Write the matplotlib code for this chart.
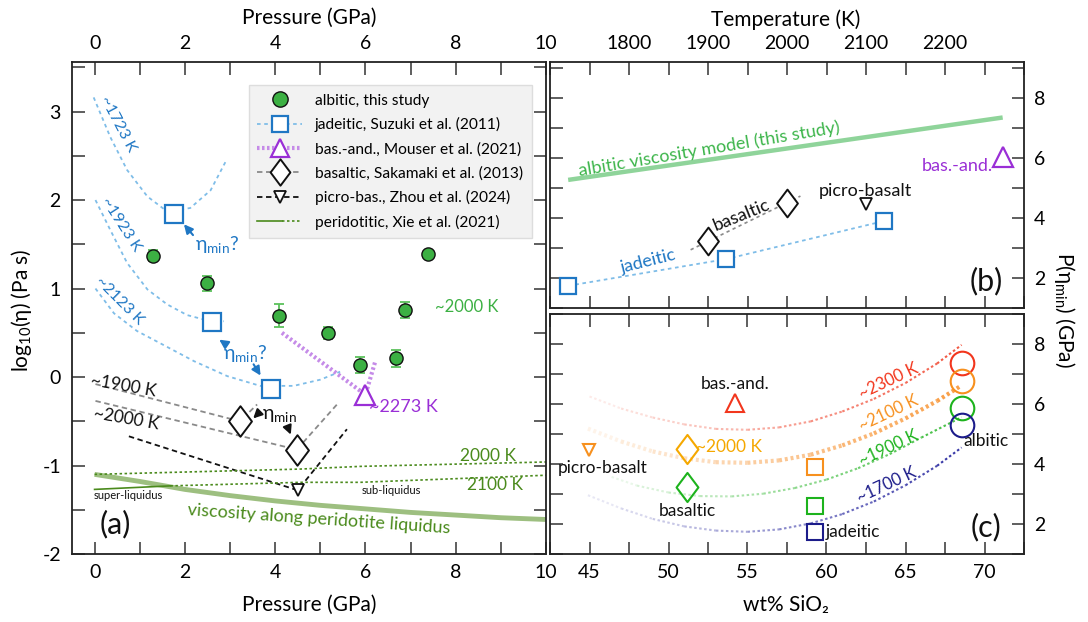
import numpy as np
import matplotlib
matplotlib.use('Agg')
import matplotlib.pyplot as plt
from matplotlib.lines import Line2D
from matplotlib.legend_handler import HandlerBase
from matplotlib.path import Path
from matplotlib.ticker import MultipleLocator, FixedLocator

plt.rcParams['font.family'] = ['Lato', 'DejaVu Sans']
plt.rcParams['mathtext.fontset'] = 'custom'
plt.rcParams['mathtext.rm'] = 'Lato'
plt.rcParams['mathtext.it'] = 'Lato:italic'
plt.rcParams['mathtext.default'] = 'regular'
plt.rcParams['axes.unicode_minus'] = False

# ---------------- Panel (a) data ----------------
alb_P = [1.30, 2.49, 4.09, 5.18, 5.88, 6.68, 6.88, 7.38]
alb_eta = [1.37, 1.06, 0.69, 0.50, 0.14, 0.21, 0.76, 1.39]
alb_err = [0.06, 0.085, 0.13, 0.07, 0.09, 0.10, 0.09, 0.0]

jad_P = [1.75, 2.60, 3.91]
jad_eta = [1.84, 0.62, -0.13]
jad1723_P = [-0.02, 0.35, 0.72, 1.17, 1.61, 2.12, 2.57, 2.93]
jad1723_eta = [3.16, 2.71, 2.34, 2.04, 1.87, 1.91, 2.11, 2.46]
jad1923_P = [0.02, 0.35, 0.72, 1.17, 1.61, 2.05, 2.42, 2.86]
jad1923_eta = [2.00, 1.66, 1.29, 0.99, 0.82, 0.70, 0.65, 0.63]
jad2123_P = [0.02, 0.43, 0.94, 1.46, 2.20, 2.94, 3.67, 4.41, 5.00, 5.44]
jad2123_eta = [1.00, 0.72, 0.52, 0.38, 0.18, 0.01, -0.10, -0.10, -0.03, 0.06]

basand_P = [6.0]
basand_eta = [-0.20]
basand_line_P = [4.15, 6.0, 6.22]
basand_line_eta = [0.50, -0.20, 0.18]

bas_P = [3.22, 4.48]
bas_eta = [-0.50, -0.82]
bas1900_P = [0.02, 3.22, 3.60]
bas1900_eta = [-0.08, -0.50, -0.31]
bas2000_P = [0.02, 4.48, 5.37]
bas2000_eta = [-0.27, -0.82, -0.31]

picro_P = [4.50]
picro_eta = [-1.28]
picro_line_P = [0.76, 4.50, 5.59]
picro_line_eta = [-0.67, -1.28, -0.59]

liq_P = [0, 1, 2, 3, 4, 5, 6, 7, 8, 9, 10]
liq_eta = [-1.10, -1.18, -1.27, -1.34, -1.40, -1.45, -1.49, -1.53, -1.56, -1.59, -1.61]
per2000_P = [0.0, 4.56, 5.88, 10.0]
per2000_eta = [-1.10, -1.04, -1.01, -0.96]
per2100_solid_P = [0.0, 1.68]
per2100_solid_eta = [-1.27, -1.23]
per2100_P = [1.68, 4.56, 5.88, 10.0]
per2100_eta = [-1.23, -1.19, -1.19, -1.11]

# ---------------- Panel (b) data ----------------
b_jad_T = [1723, 1923, 2123]
b_jad_P = [1.74, 2.63, 3.90]
b_bas_T = [1900, 2000]
b_bas_P = [3.22, 4.49]
b_bas_line_T = [1878, 2017]
b_bas_line_P = [2.94, 4.73]
b_picro_T = [2100]
b_picro_P = [4.47]
b_basand_T = [2273]
b_basand_P = [6.04]
b_model_T = [1723, 2273]
b_model_P = [5.27, 7.35]
b_temp_ticks = [1800, 1900, 2000, 2100, 2200]

# ---------------- Panel (c) data ----------------
c_alb_si = [68.6, 68.6, 68.6, 68.6]
c_alb_P = [7.37, 6.76, 5.88, 5.29]
c_alb_col = ['#f2361d', '#f7901e', '#1db31d', '#1c1c8a']
c_jad_si = [59.3, 59.3, 59.3]
c_jad_P = [3.90, 2.60, 1.72]
c_jad_col = ['#f7901e', '#1db31d', '#1c1c8a']
c_bas_si = [51.2, 51.2]
c_bas_P = [4.51, 3.22]
c_bas_col = ['#f5a800', '#1db31d']
c_picro_si = [44.94]
c_picro_P = [4.46]
c_basand_si = [54.2]
c_basand_P = [6.02]

c2300_si = [45.0, 47.0, 49.0, 51.0, 53.0, 55.0, 57.0, 59.0, 61.0, 63.0, 65.0, 67.0, 68.55]
c2300_P = [6.25, 5.85, 5.55, 5.32, 5.17, 5.14, 5.22, 5.42, 5.75, 6.17, 6.70, 7.35, 7.97]
c2100_si = [44.9, 47.0, 49.0, 51.0, 53.0, 55.0, 57.0, 59.0, 61.0, 63.0, 65.0, 67.0, 68.55]
c2100_P = [5.18, 4.75, 4.42, 4.19, 4.06, 4.04, 4.12, 4.31, 4.62, 5.02, 5.52, 6.10, 6.62]
c1900_si = [46.4, 48.0, 50.0, 52.0, 54.0, 56.0, 58.0, 60.0, 62.0, 64.0, 66.0, 68.55]
c1900_P = [3.57, 3.28, 3.05, 2.93, 2.92, 3.01, 3.20, 3.48, 3.86, 4.33, 4.88, 5.56]
c1700_si = [44.9, 47.0, 49.0, 51.0, 53.0, 55.0, 57.0, 59.0, 61.0, 63.0, 65.0, 67.0, 68.55]
c1700_P = [2.96, 2.52, 2.17, 1.92, 1.78, 1.74, 1.82, 2.02, 2.33, 2.75, 3.29, 3.94, 4.55]

# ---------------- styles ----------------
BLUE = '#1f77c4'
LBLUE = '#7fbde8'
PURPLE = '#9a2fd6'
LPURPLE = '#c58be8'
GRAY = '#8a8a8a'
DGREEN = '#4a8a1c'
LGREEN = '#9dbf80'
ALBGREEN = '#3cb043'

diamond = Path([(0, 1), (0.75, 0), (0, -1), (-0.75, 0), (0, 1)],
               [Path.MOVETO, Path.LINETO, Path.LINETO, Path.LINETO, Path.CLOSEPOLY])

fig = plt.figure(figsize=(10.88, 6.22), dpi=100)
W, H = 1088, 622


def axes_px(l, r, t, b):
    return fig.add_axes([l / W, 1 - b / H, (r - l) / W, (b - t) / H])


ax = axes_px(72, 546, 62, 554)
axb = axes_px(550, 1024, 62, 308)
axc = axes_px(550, 1024, 314, 554)

for a in (ax, axb, axc):
    for s in a.spines.values():
        s.set_linewidth(1.3)
        s.set_color('#222222')

# ---------------- Panel (a) ----------------
for Px, Ey in ((jad1723_P, jad1723_eta), (jad1923_P, jad1923_eta), (jad2123_P, jad2123_eta)):
    ax.plot(Px, Ey, color=LBLUE, lw=1.3, ls=(0, (2, 2)), zorder=2)
ax.plot(bas1900_P, bas1900_eta, color=GRAY, lw=1.3, ls=(0, (3, 2)), zorder=2)
ax.plot(bas2000_P, bas2000_eta, color=GRAY, lw=1.3, ls=(0, (3, 2)), zorder=2)
ax.plot(picro_line_P, picro_line_eta, color='#111111', lw=1.3, ls=(0, (3, 2)), zorder=2)
ax.plot(basand_line_P, basand_line_eta, color=LPURPLE, lw=3, ls=(0, (0.6, 0.6)), zorder=2)
ax.plot(liq_P, liq_eta, color=LGREEN, lw=3.5, solid_capstyle='butt', zorder=2)
ax.plot(per2000_P, per2000_eta, color=DGREEN, lw=1.2, ls=(0, (1.5, 1.5)), zorder=2)
ax.plot(per2100_solid_P, per2100_solid_eta, color=DGREEN, lw=1.2, zorder=2)
ax.plot(per2100_P, per2100_eta, color=DGREEN, lw=1.2, ls=(0, (1.5, 1.5)), zorder=2)

ax.errorbar(alb_P, alb_eta, yerr=alb_err, fmt='none', ecolor='#5cc25c', elinewidth=1.3,
            capsize=3.5, capthick=1.3, zorder=3)
ax.plot(alb_P, alb_eta, 'o', ms=9.5, mfc=ALBGREEN, mec='#111111', mew=1.0, ls='none', zorder=4)
ax.plot(jad_P, jad_eta, 's', ms=12.5, mfc='white', mec=BLUE, mew=1.6, ls='none', zorder=4)
ax.plot(bas_P, bas_eta, marker=diamond, ms=22, mfc='white', mec='#111111', mew=1.4, ls='none', zorder=4)
ax.plot(basand_P, basand_eta, '^', ms=14, mfc='white', mec=PURPLE, mew=1.6, ls='none', zorder=4)
ax.plot(picro_P, picro_eta, 'v', ms=9, mfc='white', mec='#111111', mew=1.3, ls='none', zorder=4)

ax.set_xlim(-0.5, 10)
ax.set_ylim(-2, 3.56)
ax.xaxis.set_major_locator(MultipleLocator(2))
ax.xaxis.set_minor_locator(MultipleLocator(1))
ax.yaxis.set_major_locator(MultipleLocator(1))
ax.yaxis.set_minor_locator(MultipleLocator(0.5))
ax.tick_params(which='both', direction='in', length=9, width=1.1, top=True, right=True,
               labeltop=True, labelsize=14, color='#333333')
ax.tick_params(axis='x', pad=7)
ax.tick_params(axis='y', pad=8)

# annotations panel (a)
ax.text(0.51, 2.86, '~1723 K', color=BLUE, fontsize=11.5, rotation=-62, ha='center', va='center')
ax.text(0.58, 1.72, '~1923 K', color=BLUE, fontsize=11.5, rotation=-57, ha='center', va='center')
ax.text(0.55, 0.86, '~2123 K', color=BLUE, fontsize=11.5, rotation=-45, ha='center', va='center')
ax.text(2.23, 1.50, 'η$_{min}$?', color=BLUE, fontsize=14, ha='left', va='center')
ax.annotate('', xy=(1.94, 1.75), xytext=(2.22, 1.58),
            arrowprops=dict(arrowstyle='-|>', color=BLUE, lw=1.5, mutation_scale=13))
ax.text(3.34, 0.27, 'η$_{min}$?', color=BLUE, fontsize=14, ha='center', va='center')
ax.annotate('', xy=(2.71, 0.44), xytext=(2.97, 0.35),
            arrowprops=dict(arrowstyle='-|>', color=BLUE, lw=1.5, mutation_scale=13))
ax.annotate('', xy=(3.71, -0.01), xytext=(3.49, 0.17),
            arrowprops=dict(arrowstyle='-|>', color=BLUE, lw=1.5, mutation_scale=13))
ax.text(4.10, -0.43, 'η$_{min}$', color='#111111', fontsize=14, ha='center', va='center')
ax.annotate('', xy=(3.47, -0.49), xytext=(3.67, -0.39),
            arrowprops=dict(arrowstyle='-|>', color='#111111', lw=1.5, mutation_scale=13))
ax.annotate('', xy=(4.37, -0.68), xytext=(4.26, -0.54),
            arrowprops=dict(arrowstyle='-|>', color='#111111', lw=1.5, mutation_scale=13))
ax.text(0.64, -0.10, '~1900 K', color='#111111', fontsize=12.5, rotation=-10, ha='center', va='center')
ax.text(0.71, -0.47, '~2000 K', color='#111111', fontsize=12.5, rotation=-10, ha='center', va='center')
ax.text(6.84, -0.34, '~2273 K', color=PURPLE, fontsize=13, ha='center', va='center')
ax.text(7.54, 0.79, '~2000 K', color=ALBGREEN, fontsize=12, ha='left', va='center')
ax.text(8.72, -0.89, '2000 K', color=DGREEN, fontsize=12.5, ha='center', va='center')
ax.text(8.87, -1.22, '2100 K', color=DGREEN, fontsize=12.5, ha='center', va='center')
ax.text(6.57, -1.28, 'sub-liquidus', color='#111111', fontsize=8, ha='center', va='center')
ax.text(0.75, -1.34, 'super-liquidus', color='#111111', fontsize=8, ha='center', va='center')
ax.text(4.98, -1.61, 'viscosity along peridotite liquidus', color=DGREEN, fontsize=13,
        rotation=-4, ha='center', va='center')
ax.text(0.46, -1.66, '(a)', color='#111111', fontsize=22, ha='center', va='center')


class HalfHandler(HandlerBase):
    def create_artists(self, legend, orig_handle, xdescent, ydescent, width, height, fontsize, trans):
        y = height / 2 - ydescent
        x0 = -xdescent
        l1 = Line2D([x0, x0 + width * 0.55], [y, y], color=DGREEN, lw=1.2, transform=trans)
        l2 = Line2D([x0 + width * 0.55, x0 + width], [y, y], color=DGREEN, lw=1.2,
                    ls=(0, (1.5, 1.5)), transform=trans)
        return [l1, l2]


class PeridHandle:
    pass


h1 = Line2D([], [], ls='none', marker='o', ms=11, mfc=ALBGREEN, mec='#111111', mew=1.0)
h2 = Line2D([], [], color=LBLUE, lw=1.3, ls=(0, (2, 2)), marker='s', ms=11, mfc='white', mec=BLUE, mew=1.6)
h3 = Line2D([], [], color=LPURPLE, lw=3, ls=(0, (0.6, 0.6)), marker='^', ms=13, mfc='white', mec=PURPLE, mew=1.6)
h4 = Line2D([], [], color=GRAY, lw=1.3, ls=(0, (3, 2)), marker=diamond, ms=19, mfc='white', mec='#111111', mew=1.4)
h5 = Line2D([], [], color='#111111', lw=1.3, ls=(0, (3, 2)), marker='v', ms=8, mfc='white', mec='#111111', mew=1.3)
h6 = PeridHandle()
leg = ax.legend([h1, h2, h3, h4, h5, h6],
                ['albitic, this study', 'jadeitic, Suzuki et al. (2011)', 'bas.-and., Mouser et al. (2021)',
                 'basaltic, Sakamaki et al. (2013)', 'picro-bas., Zhou et al. (2024)', 'peridotitic, Xie et al. (2021)'],
                handler_map={PeridHandle: HalfHandler()},
                loc='upper left', bbox_to_anchor=(0.373, 0.953), borderaxespad=0,
                fontsize=11.2, handlelength=2.9, handletextpad=0.8, labelspacing=0.62,
                frameon=True, fancybox=False, facecolor='#f2f2f2', edgecolor='#dddddd', framealpha=1,
                borderpad=0.55)
leg.get_frame().set_linewidth(1.0)

# ---------------- Panel (b) ----------------
axb.plot(b_model_T, b_model_P, color='#8fd49a', lw=3.2, solid_capstyle='butt', zorder=2)
axb.plot(b_jad_T, b_jad_P, color=LBLUE, lw=1.3, ls=(0, (2, 2)), zorder=2)
axb.plot(b_bas_line_T, b_bas_line_P, color=GRAY, lw=1.2, ls=(0, (2, 2)), zorder=2)
axb.plot(b_jad_T, b_jad_P, 's', ms=12, mfc='white', mec=BLUE, mew=1.6, ls='none', zorder=4)
axb.plot(b_bas_T, b_bas_P, marker=diamond, ms=20, mfc='white', mec='#111111', mew=1.4, ls='none', zorder=4)
axb.plot(b_picro_T, b_picro_P, 'v', ms=9, mfc='white', mec='#111111', mew=1.3, ls='none', zorder=4)
axb.plot(b_basand_T, b_basand_P, '^', ms=14, mfc='white', mec=PURPLE, mew=1.6, ls='none', zorder=4)
axb.text(1901, 6.31, 'albitic viscosity model (this study)', color='#3cb54a', fontsize=13,
         rotation=9.5, ha='center', va='center')
axb.text(1824, 2.57, 'jadeitic', color=BLUE, fontsize=13, rotation=14, ha='center', va='center')
axb.text(1942, 4.10, 'basaltic', color='#111111', fontsize=13, rotation=22, ha='center', va='center')
axb.text(2099, 4.90, 'picro-basalt', color='#111111', fontsize=13, ha='center', va='center')
axb.text(2215, 5.73, 'bas.-and.', color=PURPLE, fontsize=13, ha='center', va='center')
axb.text(2252, 1.88, '(b)', color='#111111', fontsize=22, ha='center', va='center')

axb.set_xlim(1700, 2300)
axb.set_ylim(1, 9.2)
axb.xaxis.set_major_locator(FixedLocator(b_temp_ticks))
axb.xaxis.set_minor_locator(MultipleLocator(50))
axb.yaxis.set_major_locator(MultipleLocator(2))
axb.yaxis.set_minor_locator(MultipleLocator(1))
axb.tick_params(which='both', direction='in', length=9, width=1.1, top=True, bottom=True,
                left=True, right=True, labeltop=True, labelbottom=False, labelleft=False,
                labelright=True, labelsize=14, color='#333333')
axb.tick_params(axis='x', pad=7)
axb.tick_params(axis='y', pad=7)

# ---------------- Panel (c) ----------------
def fade_curve(a, xs, ys, color, lw, dash):
    n = len(xs) - 1
    alphas = np.linspace(0.12, 1.0, n)
    for i in range(n):
        a.plot(xs[i:i + 2], ys[i:i + 2], color=color, lw=lw, ls=dash, alpha=alphas[i],
               solid_capstyle='butt', zorder=2)


fade_curve(axc, c2300_si, c2300_P, '#f25a45', 1.5, (0, (1.2, 1.2)))
fade_curve(axc, c2100_si, c2100_P, '#f9a04a', 3.0, (0, (0.7, 0.7)))
fade_curve(axc, c1900_si, c1900_P, '#4cc24c', 1.5, (0, (1.2, 1.2)))
fade_curve(axc, c1700_si, c1700_P, '#3a3aa8', 1.5, (0, (1.2, 1.2)))

for s, p, c in zip(c_alb_si, c_alb_P, c_alb_col):
    axc.plot([s], [p], 'o', ms=17, mfc='none', mec=c, mew=1.5, zorder=4)
for s, p, c in zip(c_jad_si, c_jad_P, c_jad_col):
    axc.plot([s], [p], 's', ms=11, mfc='none', mec=c, mew=1.5, zorder=4)
for s, p, c in zip(c_bas_si, c_bas_P, c_bas_col):
    axc.plot([s], [p], marker=diamond, ms=21, mfc='none', mec=c, mew=1.5, zorder=4)
axc.plot(c_picro_si, c_picro_P, 'v', ms=9, mfc='none', mec='#f7901e', mew=1.5, ls='none', zorder=4)
axc.plot(c_basand_si, c_basand_P, '^', ms=13, mfc='none', mec='#f2361d', mew=1.5, ls='none', zorder=4)

axc.text(54.2, 6.68, 'bas.-and.', color='#111111', fontsize=12.5, ha='center', va='center')
axc.text(51.75, 4.58, '~2000 K', color='#f5a800', fontsize=12.5, ha='left', va='center')
axc.text(45.8, 3.86, 'picro-basalt', color='#111111', fontsize=12.5, ha='center', va='center')
axc.text(51.2, 2.43, 'basaltic', color='#111111', fontsize=12.5, ha='center', va='center')
axc.text(61.65, 1.73, 'jadeitic', color='#111111', fontsize=12.5, ha='center', va='center')
axc.text(70.1, 4.76, 'albitic', color='#111111', fontsize=12.5, ha='center', va='center')
axc.text(63.9, 6.75, '~2300 K', color='#f2361d', fontsize=12, rotation=25, ha='center', va='center')
axc.text(63.9, 5.69, '~2100 K', color='#f7901e', fontsize=12, rotation=25, ha='center', va='center')
axc.text(63.9, 4.52, '~1900 K', color='#1db31d', fontsize=12, rotation=25, ha='center', va='center')
axc.text(63.8, 3.30, '~1700 K', color='#1c1c8a', fontsize=12, rotation=25, ha='center', va='center')
axc.text(70.1, 1.90, '(c)', color='#111111', fontsize=22, ha='center', va='center')

axc.set_xlim(42.5, 72.5)
axc.set_ylim(1, 9)
axc.xaxis.set_major_locator(MultipleLocator(5))
axc.xaxis.set_minor_locator(MultipleLocator(2.5))
axc.yaxis.set_major_locator(MultipleLocator(2))
axc.yaxis.set_minor_locator(MultipleLocator(1))
axc.tick_params(which='both', direction='in', length=9, width=1.1, top=True, bottom=True,
                left=True, right=True, labeltop=False, labelbottom=True, labelleft=False,
                labelright=True, labelsize=14, color='#333333')
axc.tick_params(axis='x', pad=7)
axc.tick_params(axis='y', pad=7)

# ---------------- axis titles ----------------
fig.text(309 / W, 1 - 18 / H, 'Pressure (GPa)', fontsize=15, ha='center', va='center')
fig.text(786 / W, 1 - 20 / H, 'Temperature (K)', fontsize=15, ha='center', va='center')
fig.text(309 / W, 1 - 605 / H, 'Pressure (GPa)', fontsize=15, ha='center', va='center')
fig.text(786 / W, 1 - 605 / H, 'wt% SiO₂', fontsize=15, ha='center', va='center')
fig.text(22 / W, 1 - 310 / H, 'log$_{10}$(η) (Pa s)', fontsize=15, rotation=90, ha='center', va='center')
fig.text(1064 / W, 1 - 310 / H, 'P(η$_{min}$) (GPa)', fontsize=15, rotation=270, ha='center', va='center')

fig.savefig('out.png', dpi=100)
